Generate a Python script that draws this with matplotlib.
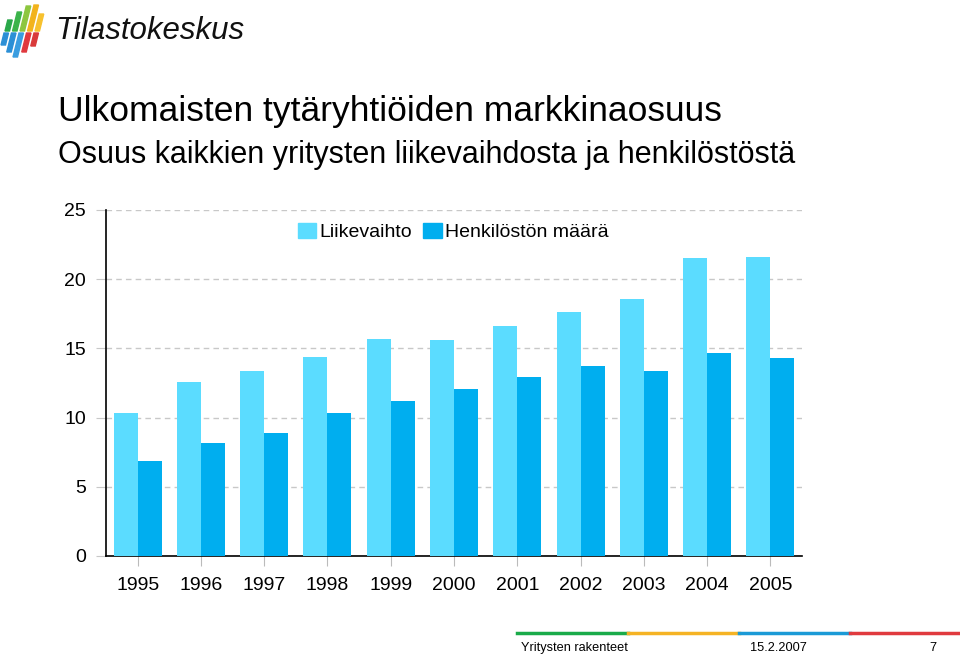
import matplotlib
matplotlib.use("Agg")
import matplotlib.pyplot as plt
from matplotlib.patches import Polygon, Patch
from matplotlib.lines import Line2D
import numpy as np

years = ["1995", "1996", "1997", "1998", "1999", "2000", "2001", "2002", "2003", "2004", "2005"]
liikevaihto = [10.3, 12.6, 13.4, 14.4, 15.7, 15.6, 16.6, 17.6, 18.6, 21.5, 21.6]
henkilosto = [6.9, 8.2, 8.9, 10.3, 11.2, 12.1, 12.9, 13.7, 13.4, 14.7, 14.3]
series_names = ["Liikevaihto", "Henkilöstön määrä"]
yticks = [0, 5, 10, 15, 20, 25]

title1 = "Ulkomaisten tytäryhtiöiden markkinaosuus"
title2 = "Osuus kaikkien yritysten liikevaihdosta ja henkilöstöstä"
footer_left = "Yritysten rakenteet"
footer_mid = "15.2.2007"
footer_right = "7"

plt.rcParams['font.family'] = ['Liberation Sans', 'DejaVu Sans']

W, H = 960, 658
fig = plt.figure(figsize=(W / 100, H / 100), dpi=100)

def fx(x):
    return x / W

def fy(y):
    return 1 - y / H

ax = fig.add_axes([fx(106), fy(556), fx(802) - fx(106), fy(210) - fy(556)])

light = "#5BDCFF"
dark = "#00AEEF"
x = np.arange(len(years))
bw = 0.38
ax.bar(x - bw / 2, liikevaihto, bw, color=light, zorder=3)
ax.bar(x + bw / 2, henkilosto, bw, color=dark, zorder=3)

ax.set_xlim(-0.5, len(years) - 0.5)
ax.set_ylim(0, 25)
ax.set_yticks(yticks)
ax.set_xticks(x)
ax.set_xticklabels(years)
ax.yaxis.grid(True, linestyle=(0, (4, 3)), color="#c8c8c8", linewidth=1, zorder=0)
for side in ["top", "right"]:
    ax.spines[side].set_visible(False)
ax.spines["left"].set_color("black")
ax.spines["bottom"].set_color("black")
ax.spines["left"].set_linewidth(1.2)
ax.spines["bottom"].set_linewidth(1.2)
ax.tick_params(axis="y", length=7.5, color="#c8c8c8", pad=7, labelsize=14)
ax.tick_params(axis="x", length=7.5, color="#bbbbbb", pad=7.5, labelsize=14, direction="out")

handles = [Patch(color=light), Patch(color=dark)]
fig.legend(handles, series_names, loc="center", bbox_to_anchor=(fx(453), fy(232)),
           frameon=False, fontsize=14, ncol=2, handlelength=0.95, handleheight=0.8,
           handletextpad=0.15, columnspacing=0.6, borderpad=0)

fig.text(fx(58), fy(121), title1, fontsize=25.5, va="baseline", ha="left")
fig.text(fx(58), fy(163), title2, fontsize=22, va="baseline", ha="left")

# footer line
seg_colors = ["#1aab4a", "#f5b324", "#1b9ad6", "#e03a3e"]
xs = [517, 628, 739, 850, 960]
for i, c in enumerate(seg_colors):
    fig.add_artist(Line2D([fx(xs[i]), fx(xs[i + 1])], [fy(633), fy(633)],
                          transform=fig.transFigure, color=c, linewidth=2.5))
fig.text(fx(521), fy(648), footer_left, fontsize=9.2, va="center", ha="left")
fig.text(fx(750), fy(648), footer_mid, fontsize=9.2, va="center", ha="left")
fig.text(fx(936), fy(648), footer_right, fontsize=9.2, va="center", ha="right")

# logo
fig.text(fx(55), fy(31), "Tilastokeskus", fontsize=22.5, style="italic", va="center",
         ha="left", color="#111111")
top_cols = ["#2aa84a", "#3bb34a", "#8cc63f", "#f2b31c", "#f7c12e"]
bot_cols = ["#2b8fd6", "#2b8fd6", "#3a9de0", "#e0393e", "#d93a3a"]
top_len = [11, 19, 25, 26, 17]
bot_len = [12, 19, 24, 19, 13]
slant = 0.25
sw = 4.5
for i in range(5):
    bx = 5 + 7.5 * i
    y0, y1 = 31, 31 - top_len[i]
    pts = [(bx, y0), (bx + sw, y0), (bx + sw + slant * (y0 - y1), y1), (bx + slant * (y0 - y1), y1)]
    fig.add_artist(Polygon([(fx(a), fy(b)) for a, b in pts], closed=True,
                           transform=fig.transFigure, color=top_cols[i]))
    y0, y1 = 33, 33 + bot_len[i]
    bx2 = bx - 1
    pts = [(bx2, y0), (bx2 + sw, y0), (bx2 + sw - slant * (y1 - y0), y1), (bx2 - slant * (y1 - y0), y1)]
    fig.add_artist(Polygon([(fx(a), fy(b)) for a, b in pts], closed=True,
                           transform=fig.transFigure, color=bot_cols[i]))

fig.savefig("out.png", dpi=100)
